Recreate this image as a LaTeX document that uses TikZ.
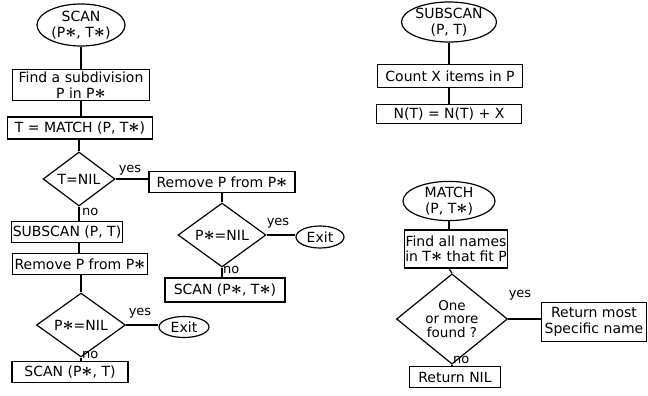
\documentclass[tikz,border=0pt]{standalone}
\usepackage{fontspec}
\setmainfont{DejaVu Sans}
\usetikzlibrary{shapes.geometric}
\newcommand{\sx}{\smash{\scalebox{1.35}{\boldmath$\ast$}}}

\begin{document}
\begin{tikzpicture}[x=1pt,y=-1pt,
        every node/.style={font=\fontsize{14}{15.5}\selectfont},
        term/.style={draw, ellipse, line width=1.2pt, inner sep=0pt, align=center},
        box/.style={draw, rectangle, line width=1.2pt, inner sep=1pt, align=center},
        test/.style={draw, diamond, line width=1.2pt, inner sep=0pt, align=center},
        lbl/.style={font=\fontsize{13}{13}\selectfont, inner sep=1pt},
        link/.style={line width=1.2pt}]
    \useasboundingbox (0,0) rectangle (648,396);
    % SCAN procedure
        \node[term, minimum width=88, minimum height=42] (scan) at (81,25) {SCAN\\(P\sx, T\sx)};
        \node[box, minimum width=137, minimum height=31] (find) at (81,85) {Find a subdivision\\P in P\sx};
        \node[box, minimum width=145, minimum height=22] (match) at (80,128) {T = MATCH (P, T\sx)};
        \node[test, minimum width=72, minimum height=54] (tnil) at (79,179) {T=NIL};
        \node[box, minimum width=146, minimum height=21] (rem1) at (222,182) {Remove P from P\sx};
        \node[test, minimum width=88, minimum height=52] (pnil1) at (222,235) {P\sx=NIL};
        \node[term, minimum width=48, minimum height=22] (exit1) at (320,237) {Exit};
        \node[box, minimum width=120, minimum height=24] (scan2) at (225,290) {SCAN (P\sx, T\sx)};
        \node[box, minimum width=107, minimum height=21] (subs) at (67,232) {SUBSCAN (P, T)};
        \node[box, minimum width=135, minimum height=21] (rem2) at (80,264) {Remove P from P\sx};
        \node[test, minimum width=89, minimum height=55] (pnil2) at (81,325) {P\sx=NIL};
        \node[term, minimum width=50, minimum height=21] (exit2) at (184,327) {Exit};
        \node[box, minimum width=116, minimum height=21] (scan3) at (70,372) {SCAN (P\sx, T)};
    % SUBSCAN procedure
        \node[term, minimum width=85, minimum height=40] (subscan) at (449,22) {SUBSCAN\\(P, T)};
        \node[box, minimum width=145, minimum height=23] (count) at (450,76) {Count X items in P};
        \node[box, minimum width=145, minimum height=19] (ntx) at (449,114) {N(T) = N(T) + X};
    % MATCH procedure
        \node[term, minimum width=92, minimum height=38] (matchp) at (449,201) {MATCH\\(P, T\sx)};
        \node[box, minimum width=93, minimum height=38] (findall) at (456,249) {Find all names\\in T\sx{} that fit P};
        \node[test, minimum width=111, minimum height=68, font=\fontsize{13.5}{13.5}\selectfont] (found) at (452,319) {One\\or more\\found ?};
        \node[box, minimum width=105, minimum height=39] (retmost) at (594,322) {Return most\\Specific name};
        \node[box, minimum width=91, minimum height=21] (retnil) at (455,377) {Return NIL};
    % Connectors.
        \draw[link] (scan) -- (scan |- find.north);
        \draw[link] (find.south) -- (find.south |- match.north);
        \draw[link] (match.south -| tnil) -- (tnil.north);
        \draw[link] (tnil.east) -- (tnil.east -| rem1.west);
        \draw[link] (tnil.south) -- (tnil.south |- subs.north);
        \draw[link] (subs.south -| tnil) -- (tnil |- rem2.north);
        \draw[link] (rem2.south -| pnil2) -- (pnil2.north);
        \draw[link] (pnil2.east) -- (pnil2.east -| exit2.west);
        \draw[link] (pnil2.south) -- (pnil2.south |- scan3.north);
        \draw[link] (rem1.south -| pnil1) -- (pnil1.north);
        \draw[link] (pnil1.east) -- (pnil1.east -| exit1.west);
        \draw[link] (pnil1.south) -- (pnil1.south |- scan2.north);
        \draw[link] (subscan) -- (subscan |- count.north);
        \draw[link] (count.south -| subscan) -- (subscan |- ntx.north);
        \draw[link] (matchp) -- (matchp |- findall.north);
        \draw[link] (findall.south -| matchp) -- (found.north);
        \draw[link] (found.east) -- (found.east -| retmost.west);
        \draw[link] (found.south) -- (found.south |- retnil.north);
    % Below nodes are the yes/no labels.
        \node[lbl] (y1) at (130,170) {yes};
        \node[lbl, anchor=west] (n1) at (81,212) {no};
        \node[lbl] (y2) at (278,223) {yes};
        \node[lbl, anchor=west] (n2) at (222,270) {no};
        \node[lbl] (y3) at (140,313) {yes};
        \node[lbl, anchor=west] (n3) at (81,355) {no};
        \node[lbl] (y4) at (520,295) {yes};
        \node[lbl, anchor=west] (n4) at (452,360) {no};
\end{tikzpicture}
\end{document}
